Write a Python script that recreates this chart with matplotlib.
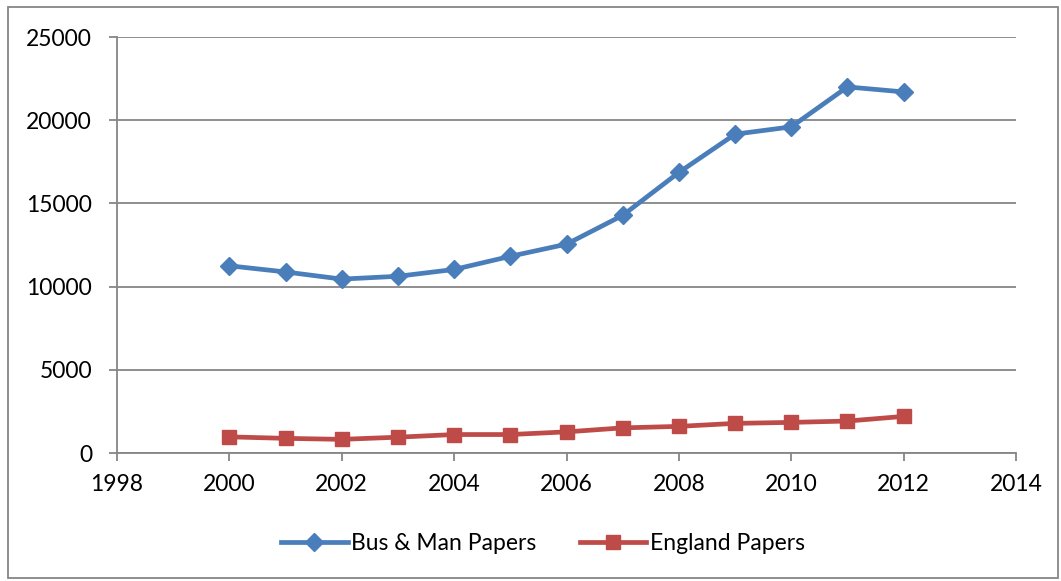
import matplotlib
matplotlib.use("Agg")
import matplotlib.pyplot as plt
from matplotlib.patches import Rectangle

years = [2000, 2001, 2002, 2003, 2004, 2005, 2006, 2007, 2008, 2009, 2010, 2011, 2012]
bus_man = [11250, 10880, 10450, 10620, 11030, 11820, 12550, 14280, 16860, 19160, 19600, 22000, 21700]
england = [970, 880, 820, 950, 1110, 1110, 1270, 1510, 1600, 1780, 1840, 1920, 2200]
x_ticks = [1998, 2000, 2002, 2004, 2006, 2008, 2010, 2012, 2014]
y_ticks = [0, 5000, 10000, 15000, 20000, 25000]

plt.rcParams['font.family'] = ['Lato', 'DejaVu Sans']
W, H = 1061, 581
fig = plt.figure(figsize=(W/100, H/100), dpi=100)
ax = fig.add_axes([117/W, 1-453/H, (1016-117)/W, (453-37)/H])

grid_c = '#868686'
ax.plot(years, bus_man, color='#4A7EBB', lw=3.4, marker='D', ms=9.5,
        label='Bus & Man Papers', solid_joinstyle='round')
ax.plot(years, england, color='#BE4B48', lw=3.4, marker='s', ms=10.5,
        label='England Papers', solid_joinstyle='round')

ax.set_xlim(1998, 2014)
ax.set_ylim(0, 25000)
ax.set_xticks(x_ticks)
ax.set_yticks(y_ticks)
ax.set_xticklabels([str(v) for v in x_ticks])
ax.set_yticklabels([str(v) for v in y_ticks])
ax.yaxis.grid(True, color=grid_c, lw=1.3)
ax.set_axisbelow(True)
for s in ['top', 'right']:
    ax.spines[s].set_visible(False)
for s in ['left', 'bottom']:
    ax.spines[s].set_color(grid_c)
    ax.spines[s].set_linewidth(1.3)
ax.tick_params(axis='both', colors=grid_c, labelcolor='black', labelsize=16.5,
               length=6, width=1.3)
ax.tick_params(axis='y', pad=12)
ax.tick_params(axis='x', pad=9)

leg = fig.legend(loc='center', bbox_to_anchor=(543/W, 1-544/H), ncol=2, frameon=False,
                 fontsize=16.5, handlelength=2.9, columnspacing=1.9, handletextpad=0.15)

fig.patches.append(Rectangle((8/W, 3/H), (1058-8)/W, (574-3)/H, transform=fig.transFigure,
                             fill=False, edgecolor=grid_c, lw=1.3))

fig.savefig('out.png', dpi=100)
